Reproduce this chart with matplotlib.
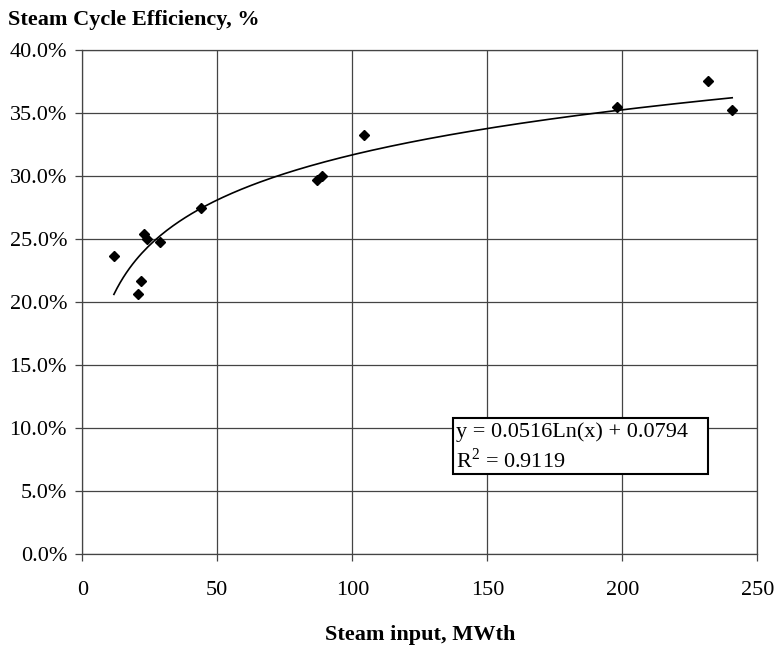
import numpy as np
import matplotlib
matplotlib.use('Agg')
import matplotlib.pyplot as plt
from matplotlib.patches import Rectangle
from matplotlib.ticker import FuncFormatter

# Steam input (MWth) vs steam cycle efficiency (fraction)
steam_input = [11.7, 20.7, 21.7, 22.8, 24.0, 28.9, 43.8, 86.8, 88.9, 104.2, 198.1, 231.9, 240.7]
efficiency = [0.237, 0.207, 0.217, 0.254, 0.250, 0.248, 0.275, 0.297, 0.300, 0.333, 0.355, 0.376, 0.353]

# Excel log trendline coefficients shown on the chart
fit_a = 0.0516
fit_b = 0.0794
fit_r2 = 0.9119

plt.rcParams['font.family'] = ['Liberation Serif', 'DejaVu Serif']
plt.rcParams['mathtext.fontset'] = 'custom'
plt.rcParams['mathtext.rm'] = 'Liberation Serif'

fig = plt.figure(figsize=(7.78, 6.46), dpi=100)
ax = fig.add_axes([0.1058, 0.1419, 0.8676, 0.7802])

# trendline over the data range
xs = np.linspace(min(steam_input), max(steam_input), 200)
ax.plot(xs, fit_a * np.log(xs) + fit_b, color='black', lw=1.2, zorder=3)
ax.plot(steam_input, efficiency, linestyle='none', marker='D', color='black',
        markersize=5.5, zorder=4)

ax.set_xlim(0, 250)
ax.set_ylim(0, 0.40)
ax.set_xticks(np.arange(0, 251, 50))
ax.set_yticks(np.arange(0, 0.401, 0.05))
ax.yaxis.set_major_formatter(FuncFormatter(lambda v, p: f'{v * 100:.1f}%'))
ax.grid(True, color='#444444', lw=0.9)
ax.set_axisbelow(True)
for s in ax.spines.values():
    s.set_color('#444444')
    s.set_linewidth(0.9)
ax.tick_params(axis='both', direction='out', length=5, width=0.9, color='#444444',
               labelsize=16)
ax.tick_params(axis='x', pad=14)
ax.tick_params(axis='y', pad=6)

ax.set_xlabel('Steam input, MWth', fontsize=16, fontweight='bold', labelpad=18)
fig.text(0.010, 0.969, 'Steam Cycle Efficiency, %', fontsize=16, fontweight='bold',
         ha='left', va='center')

# equation box
ax.add_patch(Rectangle((0.5496, 0.1593), 0.3778, 0.1105, transform=ax.transAxes,
                       facecolor='white', edgecolor='black', lw=1.5, zorder=5))
ax.text(0.553, 0.2427, f'y = {fit_a}Ln(x) + {fit_b}', transform=ax.transAxes,
        fontsize=16, ha='left', va='center', zorder=6)
ax.text(0.553, 0.1871, 'R$^2$' + f' = {fit_r2}', transform=ax.transAxes,
        fontsize=16, ha='left', va='center', zorder=6)

fig.savefig('out.png', dpi=100)
